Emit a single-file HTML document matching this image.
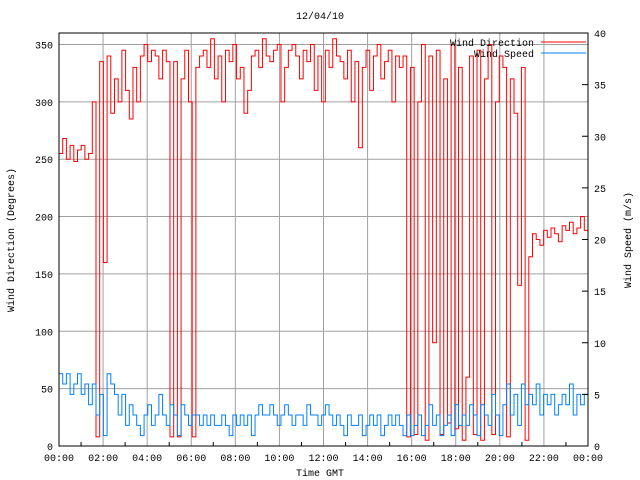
<!DOCTYPE html>
<html><head><meta charset="utf-8"><style>
body{margin:0;background:#fff}
svg{display:block}
text{font-family:"Liberation Mono",monospace;font-size:10px;fill:#000}
</style></head><body>
<svg id="chart" width="640" height="480" xmlns="http://www.w3.org/2000/svg">
<rect width="640" height="480" fill="#fff"/>
<g id="grid"></g>
<g id="series"></g>
<rect x="59" y="33" width="529" height="413" fill="none" stroke="#000" stroke-width="1"/>
<g id="ticks"></g>
<text x="320" y="19" text-anchor="middle">12/04/10</text>
<text x="320" y="476" text-anchor="middle">Time GMT</text>
<text transform="translate(14,240) rotate(-90)" text-anchor="middle">Wind Direction (Degrees)</text>
<text transform="translate(631,240) rotate(-90)" text-anchor="middle">Wind Speed (m/s)</text>
<g>
<text x="534" y="46" text-anchor="end">Wind Direction</text>
<line x1="541" y1="42" x2="586" y2="42" stroke="#ff0000"/>
<text x="534" y="57" text-anchor="end">Wind Speed</text>
<line x1="541" y1="53" x2="586" y2="53" stroke="#0080ff"/>
</g>
</svg>
<script>
const xTicks=["00:00","02:00","04:00","06:00","08:00","10:00","12:00","14:00","16:00","18:00","20:00","22:00","00:00"];
const leftTicks=[0,50,100,150,200,250,300,350];
const rightTicks=[0,5,10,15,20,25,30,35,40];
const direction=[255,268,250,262,248,258,262,250,255,
300,8,335,160,
340,290,320,300,345,310,285,330,300,340,350,335,345,340,320,345,335,
8,335,8,320,345,300,8,
330,340,345,330,355,320,340,300,345,335,350,320,330,290,310,340,345,330,355,340,335,345,350,300,330,345,350,340,320,345,335,350,310,340,300,345,330,355,340,335,320,345,300,335,260,330,345,310,340,350,320,335,345,300,340,330,
340,8,330,10,300,350,5,340,90,345,10,320,20,350,15,330,5,60,340,10,345,5,320,350,10,300,340,330,8,320,290,140,330,5,
165,185,180,175,188,182,190,185,178,192,188,195,185,190,200,188,192];
const speed=[7,6,7,5,6,7,5,6,4,6,3,5,1,
7,6,5,3,5,2,4,3,
2,1,3,4,2,3,5,3,2,4,3,1,4,3,2,3,
3,2,3,2,3,2,2,3,2,1,3,2,3,2,3,1,3,4,3,3,4,3,2,3,4,3,2,3,3,2,4,3,3,2,3,4,3,2,3,2,1,3,2,2,3,1,2,3,2,3,1,2,3,2,3,2,
1,3,1,2,3,1,2,4,2,3,1,2,3,1,4,2,3,2,4,3,1,4,3,2,5,3,1,4,6,3,5,2,6,4,
5,4,6,3,5,4,5,3,4,5,4,6,3,5,4,5,4];
const X0=59,X1=588,Y0=446,Y1=33;
const xs=h=>X0+(X1-X0)*h/24;
const yL=v=>Y0-(Y0-Y1)*v/360;
const yR=v=>Y0-(Y0-Y1)*v/40;
const NS="http://www.w3.org/2000/svg";
const grid=document.getElementById('grid'),ticks=document.getElementById('ticks'),series=document.getElementById('series');
function mk(tag,attrs,parent){const e=document.createElementNS(NS,tag);for(const k in attrs)e.setAttribute(k,attrs[k]);parent.appendChild(e);return e;}
xTicks.forEach((t,i)=>{const x=xs(i*2);
 const g=mk('line',{x1:x,x2:x,y1:Y0,y2:Y1,stroke:'#a0a0a0'},grid);
 
 
 const l=mk('text',{x:x,y:461,'text-anchor':'middle'},ticks);l.textContent=t;
 
 
 if(i<12){const m=mk('line',{x1:xs(i*2+1),x2:xs(i*2+1),y1:Y0,y2:Y0-4,stroke:'#000'},ticks);
 
 }
});
leftTicks.forEach(v=>{const y=yL(v);
 const g=mk('line',{x1:X0,x2:X1,y1:y,y2:y,stroke:'#a0a0a0'},grid);
 
 
 const l=mk('text',{x:53,y:y+4,'text-anchor':'end'},ticks);l.textContent=v;
 
 
});
rightTicks.forEach(v=>{const y=yR(v);
 const t=mk('line',{x1:X1,x2:X1-6,y1:y,y2:y,stroke:'#000'},ticks);
 
 
 const l=mk('text',{x:594,y:y+4,'text-anchor':'start'},ticks);l.textContent=v;
 
 
});
function stepPath(arr,yf){let d='';const n=arr.length;
 arr.forEach((v,i)=>{const x=xs(i*24/(n-1)),y=yf(v);
  if(i===0)d+='M'+x+','+y;else d+='H'+x+'V'+y;});return d;}
const pd=mk('path',{d:stepPath(direction,yL),fill:'none',stroke:'#ff0000','stroke-width':1},series);


const ps=mk('path',{d:stepPath(speed,yR),fill:'none',stroke:'#0080ff','stroke-width':1},series);


</script>
</body></html>
